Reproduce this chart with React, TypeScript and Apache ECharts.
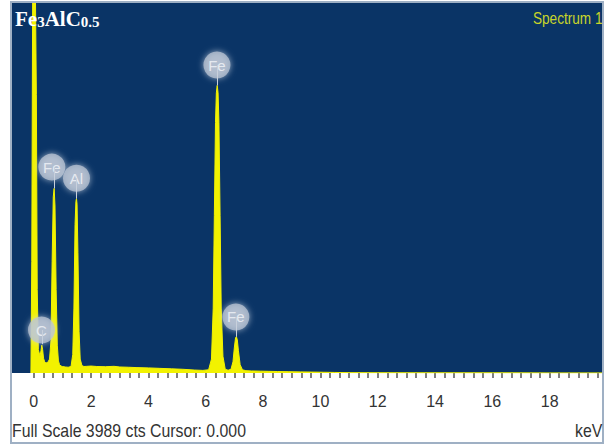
import React, { useEffect, useRef } from "react";
import * as echarts from "echarts";

// Spectrum (keV, counts)
const energy = [-0.1, -0.07, -0.04, 0.0, 0.03, 0.06, 0.09, 0.12, 0.16, 0.22, 0.25, 0.28, 0.31, 0.34, 0.38, 0.42, 0.46, 0.5, 0.55, 0.6, 0.64, 0.68, 0.71, 0.74, 0.78, 0.82, 0.86, 0.9, 0.95, 1.0, 1.1, 1.2, 1.3, 1.36, 1.4, 1.44, 1.47, 1.49, 1.51, 1.54, 1.58, 1.62, 1.68, 1.75, 1.85, 2.0, 2.2, 2.5, 2.8, 3.0, 3.3, 3.6, 4.0, 4.4, 4.8, 5.2, 5.6, 5.9, 6.1, 6.2, 6.26, 6.3, 6.34, 6.37, 6.4, 6.43, 6.46, 6.5, 6.54, 6.6, 6.68, 6.78, 6.88, 6.95, 7.0, 7.04, 7.07, 7.1, 7.14, 7.2, 7.28, 7.4, 7.6, 7.9, 8.2, 8.5, 8.9, 9.3, 9.7, 10.1, 10.5, 11.0, 12.0, 14.0, 16.0, 18.0, 19.86];
const counts = [0, 1200, 3989, 3989, 3989, 3989, 3000, 900, 250, 180, 240, 300, 250, 160, 120, 110, 110, 120, 150, 350, 1200, 1900, 1990, 1800, 900, 300, 130, 90, 75, 70, 65, 62, 70, 200, 700, 1600, 1850, 1880, 1820, 1300, 450, 150, 80, 70, 72, 75, 70, 68, 72, 65, 62, 58, 55, 50, 45, 40, 32, 28, 35, 150, 700, 1700, 2700, 3020, 3100, 3020, 2700, 1700, 700, 180, 40, 30, 40, 120, 280, 380, 390, 360, 240, 90, 35, 25, 22, 20, 18, 16, 14, 12, 10, 8, 6, 4, 3, 2, 2, 1, 1];

// Peak labels
const peakNames = ["C", "Fe", "Al", "Fe", "Fe"];
const labelEnergy = [0.27, 0.63, 1.49, 6.39, 7.05];
const labelCounts = [463, 2220, 2100, 3320, 604];
const stemEnergy = [0.28, 0.71, 1.49, 6.4, 7.06];
const stemTop = [310, 1990, 1880, 3100, 390];

const xTickLabels = [0, 2, 4, 6, 8, 10, 12, 14, 16, 18];
const fullScale = 3989;

const SANS = '"Liberation Sans", Arial, sans-serif';
const SERIF = '"Liberation Serif", "Times New Roman", serif';

export default function App() {
  const ref = useRef<HTMLDivElement>(null);
  useEffect(() => {
    if (!ref.current) return;
    const chart = echarts.init(ref.current, null, { renderer: "svg" });
    const minorTicks: number[] = [];
    for (let i = 0; i <= 59; i++) minorTicks.push(i / 3);
    const spectrum = energy.map((e, i) => [e, counts[i]]);
    const labels = peakNames.map((n, i) => ({ name: n, value: [labelEnergy[i], labelCounts[i]] }));
    const stems = peakNames.map((_, i) => [
      { coord: [stemEnergy[i], stemTop[i]] },
      { coord: [stemEnergy[i], labelCounts[i]] },
    ]);
    chart.setOption({
      animation: false,
      backgroundColor: "#ffffff",
      grid: {
        left: 12,
        right: 3,
        top: 3,
        bottom: 75,
        show: true,
        backgroundColor: "#0a3466",
        borderWidth: 0,
      },
      xAxis: {
        type: "value",
        min: -0.76,
        max: 19.86,
        splitLine: { show: false },
        axisLine: { show: false },
        axisTick: {
          show: true,
          customValues: minorTicks,
          length: 5,
          lineStyle: { color: "#555", width: 1.5 },
        },
        axisLabel: {
          customValues: xTickLabels,
          color: "#333",
          fontSize: 16,
          fontFamily: SANS,
          margin: 20,
        },
      },
      yAxis: {
        type: "value",
        min: 0,
        max: fullScale,
        show: false,
        splitLine: { show: false },
      },
      series: [
        {
          type: "line",
          data: spectrum,
          showSymbol: false,
          symbol: "none",
          lineStyle: { color: "#f2f200", width: 1 },
          areaStyle: { color: "#f2f200", opacity: 1 },
          z: 2,
          markLine: {
            silent: true,
            symbol: "none",
            label: { show: false },
            lineStyle: { color: "#c8d0dc", width: 1, type: "solid" },
            data: stems,
          },
        },
        {
          type: "scatter",
          data: labels,
          symbol: "circle",
          symbolSize: 27,
          z: 3,
          itemStyle: {
            color: "rgba(185,196,212,0.95)",
            shadowBlur: 6,
            shadowColor: "rgba(215,222,232,0.9)",
          },
          label: {
            show: true,
            position: "inside",
            formatter: (p: any) => p.name,
            color: "#f4f6fa",
            fontSize: 15,
            fontFamily: SANS,
          },
        },
      ],
      graphic: [
        {
          type: "rect",
          shape: { x: 11, y: 2, width: 592, height: 441 },
          style: { fill: "none", stroke: "#9fb0c4", lineWidth: 2 },
          z: 10,
        },
        {
          type: "text",
          left: 15,
          top: 8,
          z: 11,
          style: {
            text: "{m|Fe}{s|3}{m|AlC}{s|0.5}",
            rich: {
              m: { fontSize: 21, fontWeight: "bold", fontFamily: SERIF, fill: "#ffffff", verticalAlign: "bottom", lineHeight: 23 },
              s: { fontSize: 15, fontWeight: "bold", fontFamily: SERIF, fill: "#ffffff", verticalAlign: "bottom", lineHeight: 18 },
            },
          },
        },
        {
          type: "text",
          x: 533,
          y: 11,
          scaleX: 0.85,
          z: 11,
          style: { text: "Spectrum 1", fontSize: 16, fontFamily: SANS, fill: "#c8d52a" },
        },
        {
          type: "text",
          x: 12,
          y: 422,
          scaleX: 0.88,
          z: 11,
          style: { text: "Full Scale 3989 cts Cursor: 0.000", fontSize: 18, fontFamily: SANS, fill: "#333333" },
        },
        {
          type: "text",
          x: 575,
          y: 422,
          scaleX: 0.88,
          z: 11,
          style: { text: "keV", fontSize: 18, fontFamily: SANS, fill: "#333333" },
        },
      ],
    });
    return () => chart.dispose();
  }, []);
  return (
    <div
      ref={ref}
      style={{ position: "fixed", left: 0, top: 0, width: 606, height: 448 }}
    />
  );
}
